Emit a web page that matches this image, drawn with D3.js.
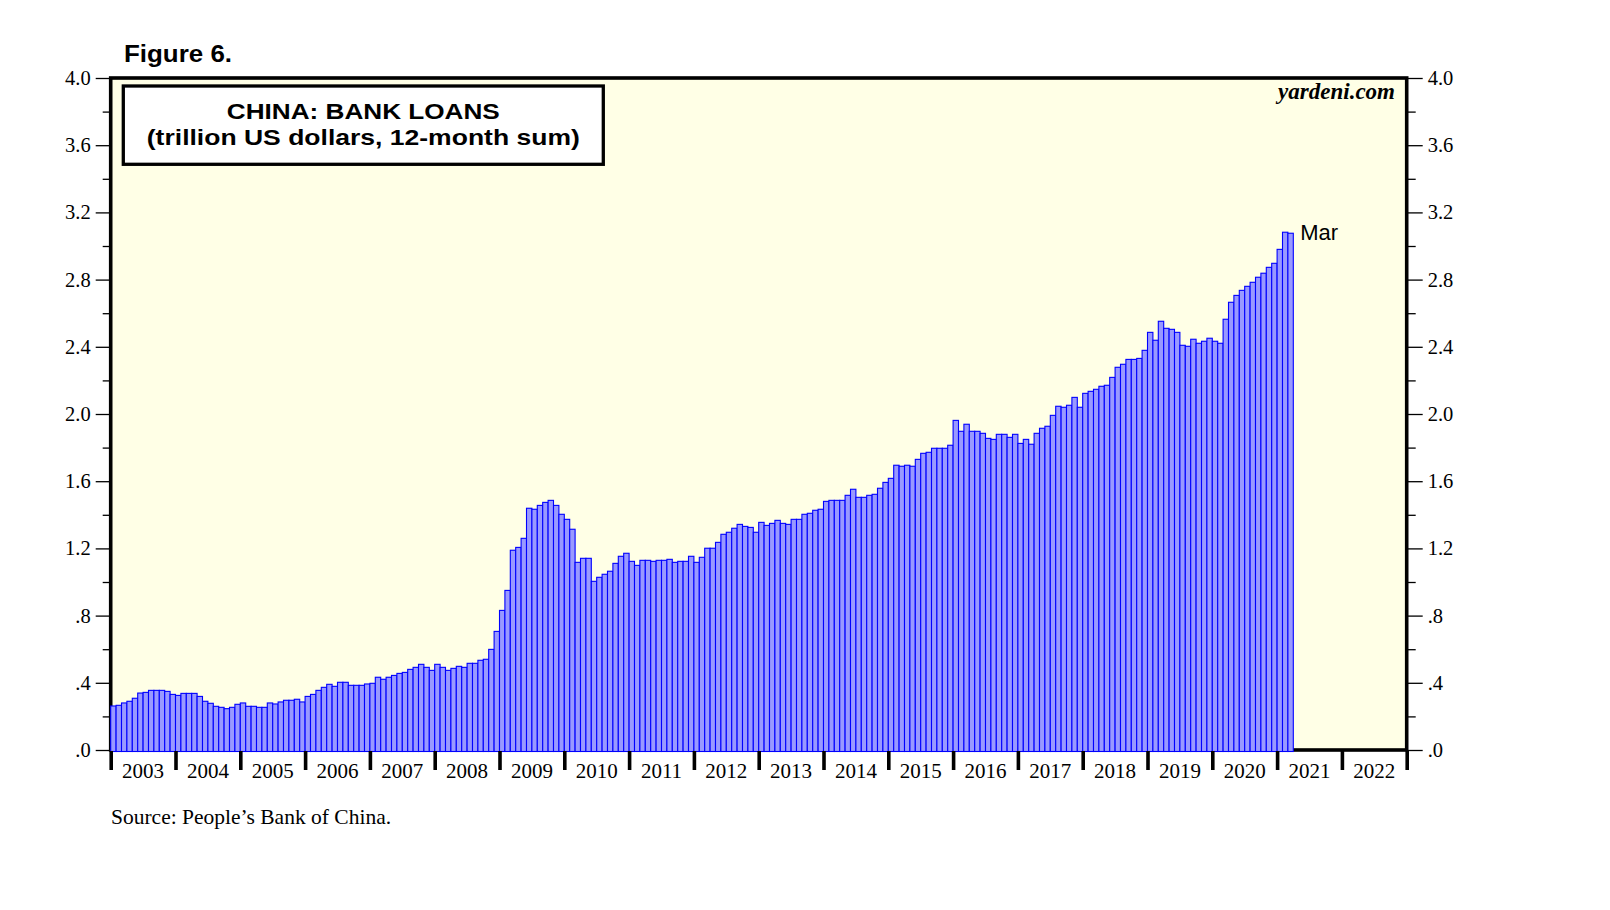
<!DOCTYPE html>
<html>
<head>
<meta charset="utf-8">
<script src="https://cdn.jsdelivr.net/npm/d3@7"></script>
<style>
  html, body { margin: 0; padding: 0; background: #ffffff; }
  svg { display: block; }
</style>
</head>
<body>
<div id="chart"></div>
<script>
// ---------------- DATA ----------------
const years = [2003, 2004, 2005, 2006, 2007, 2008, 2009, 2010, 2011, 2012,
               2013, 2014, 2015, 2016, 2017, 2018, 2019, 2020, 2021, 2022];
const yTickValues = [0, 0.4, 0.8, 1.2, 1.6, 2.0, 2.4, 2.8, 3.2, 3.6, 4.0];
const yTickLabels = [".0", ".4", ".8", "1.2", "1.6", "2.0", "2.4", "2.8", "3.2", "3.6", "4.0"];
const yMinorTicks = [0.2, 0.6, 1.0, 1.4, 1.8, 2.2, 2.6, 3.0, 3.4, 3.8];
// China bank loans, trillion US dollars, 12-month sum (monthly, Jan 2003 - Mar 2021)
const loans2003 = [0.262,0.266,0.280,0.290,0.308,0.339,0.343,0.355,0.355,0.355,0.349,0.331];
const loans2004 = [0.325,0.337,0.337,0.337,0.319,0.290,0.278,0.260,0.254,0.246,0.254,0.272];
const loans2005 = [0.280,0.260,0.260,0.254,0.254,0.280,0.274,0.286,0.296,0.296,0.302,0.286];
const loans2006 = [0.319,0.331,0.355,0.373,0.391,0.379,0.403,0.403,0.385,0.385,0.385,0.393];
const loans2007 = [0.397,0.433,0.421,0.433,0.444,0.456,0.462,0.480,0.492,0.510,0.492,0.474];
const loans2008 = [0.510,0.492,0.474,0.486,0.498,0.492,0.516,0.516,0.534,0.540,0.599,0.706];
const loans2009 = [0.831,0.950,1.189,1.206,1.260,1.439,1.433,1.456,1.474,1.486,1.456,1.403];
const loans2010 = [1.373,1.314,1.117,1.141,1.141,1.004,1.028,1.046,1.064,1.111,1.153,1.171];
const loans2011 = [1.123,1.099,1.129,1.129,1.123,1.129,1.129,1.135,1.117,1.123,1.123,1.153];
const loans2012 = [1.117,1.147,1.201,1.201,1.236,1.284,1.296,1.320,1.343,1.331,1.325,1.296];
const loans2013 = [1.355,1.337,1.349,1.367,1.349,1.343,1.373,1.373,1.403,1.409,1.427,1.433];
const loans2014 = [1.480,1.486,1.486,1.486,1.516,1.552,1.504,1.504,1.516,1.522,1.558,1.593];
const loans2015 = [1.617,1.695,1.689,1.695,1.689,1.730,1.766,1.772,1.796,1.796,1.796,1.814];
const loans2016 = [1.962,1.897,1.939,1.897,1.897,1.885,1.855,1.849,1.879,1.879,1.861,1.879];
const loans2017 = [1.825,1.849,1.820,1.885,1.915,1.927,1.992,2.046,2.040,2.052,2.099,2.040];
const loans2018 = [2.123,2.135,2.147,2.165,2.171,2.218,2.278,2.296,2.325,2.325,2.331,2.379];
const loans2019 = [2.486,2.439,2.552,2.510,2.504,2.486,2.409,2.403,2.445,2.421,2.433,2.451];
const loans2020 = [2.433,2.421,2.564,2.665,2.706,2.736,2.760,2.784,2.814,2.838,2.873,2.897];
const loans2021 = [2.980,3.082,3.076];
const lastLabel = "Mar";

// ---------------- BUILD ----------------
(function () {
const values = [].concat(loans2003, loans2004, loans2005, loans2006, loans2007, loans2008,
  loans2009, loans2010, loans2011, loans2012, loans2013, loans2014, loans2015, loans2016,
  loans2017, loans2018, loans2019, loans2020, loans2021);
const monthKeys = [];
years.forEach(yy => { for (let m = 1; m <= 12; m++) monthKeys.push(yy + "-" + m); });
const data = values.map((v, i) => ({ key: monthKeys[i], value: v }));
const yearEdges = years.concat([years[years.length - 1] + 1]);

const W = 1610, H = 910;
const pLeft = 110.7, pRight = 1406.7, pTop = 78, pBottom = 750;
const serif = "'Liberation Serif', 'Times New Roman', serif";
const sans = "'Liberation Sans', Arial, sans-serif";

const svg = d3.select("#chart").append("svg")
  .attr("width", W).attr("height", H)
  .attr("viewBox", `0 0 ${W} ${H}`);

const x = d3.scaleBand().domain(monthKeys).range([pLeft, pRight]).paddingInner(0).paddingOuter(0);
const xYear = d3.scaleLinear().domain([years[0], years[years.length - 1] + 1]).range([pLeft, pRight]);
const y = d3.scaleLinear().domain([0, 4]).range([pBottom, pTop]);

// plot background
svg.append("rect")
  .attr("x", pLeft).attr("y", pTop)
  .attr("width", pRight - pLeft).attr("height", pBottom - pTop)
  .attr("fill", "#ffffe6");

// left axis
const yAxisL = d3.axisLeft(y).tickValues(yTickValues)
  .tickFormat((d, i) => yTickLabels[i]).tickSize(15).tickPadding(5);
const gL = svg.append("g").attr("transform", `translate(${pLeft},0)`).call(yAxisL);
const yAxisLminor = d3.axisLeft(y).tickValues(yMinorTicks).tickFormat("").tickSize(8);
const gLm = svg.append("g").attr("transform", `translate(${pLeft},0)`).call(yAxisLminor);

// right axis
const yAxisR = d3.axisRight(y).tickValues(yTickValues)
  .tickFormat((d, i) => yTickLabels[i]).tickSize(16).tickPadding(5);
const gR = svg.append("g").attr("transform", `translate(${pRight},0)`).call(yAxisR);
const yAxisRminor = d3.axisRight(y).tickValues(yMinorTicks).tickFormat("").tickSize(9);
const gRm = svg.append("g").attr("transform", `translate(${pRight},0)`).call(yAxisRminor);

[gL, gLm, gR, gRm].forEach(g => {
  g.select(".domain").remove();
  g.selectAll(".tick line").attr("stroke", "#000").attr("stroke-width", 1.3);
  g.selectAll(".tick text")
    .attr("font-family", serif)
    .attr("font-size", 20.5).attr("fill", "#000");
});

// plot frame
svg.append("rect")
  .attr("x", pLeft).attr("y", pTop)
  .attr("width", pRight - pLeft).attr("height", pBottom - pTop)
  .attr("fill", "none").attr("stroke", "#000").attr("stroke-width", 3.6);

// bars
svg.append("g").selectAll("rect").data(data).join("rect")
  .attr("x", d => x(d.key))
  .attr("y", d => y(d.value))
  .attr("width", x.bandwidth())
  .attr("height", d => y(0) - y(d.value) + 1.5)
  .attr("fill", "#9999ff")
  .attr("stroke", "#0000ff")
  .attr("stroke-width", 1.1);

// x axis: year boundary ticks and year labels
const xAxis = d3.axisBottom(xYear).tickValues(yearEdges).tickFormat("").tickSize(19);
const gX = svg.append("g").attr("transform", `translate(0,${pBottom + 1})`).call(xAxis);
gX.select(".domain").remove();
gX.selectAll(".tick line").attr("stroke", "#000").attr("stroke-width", 3.6);

svg.append("g").selectAll("text").data(years).join("text")
  .attr("x", d => xYear(d + 0.5))
  .attr("y", 777.5)
  .attr("text-anchor", "middle")
  .attr("font-family", serif)
  .attr("font-size", 21)
  .attr("fill", "#000")
  .text(d => d);

// title box
svg.append("rect")
  .attr("x", 123.3).attr("y", 86).attr("width", 480).attr("height", 78.3)
  .attr("fill", "#ffffff").attr("stroke", "#000").attr("stroke-width", 3.3);
svg.append("text")
  .attr("x", 363.3).attr("y", 119.3)
  .attr("text-anchor", "middle")
  .attr("font-family", sans)
  .attr("font-weight", "bold").attr("font-size", 22.6).attr("fill", "#000")
  .attr("textLength", 273).attr("lengthAdjust", "spacingAndGlyphs")
  .text("CHINA: BANK LOANS");
svg.append("text")
  .attr("x", 363.3).attr("y", 145.2)
  .attr("text-anchor", "middle")
  .attr("font-family", sans)
  .attr("font-weight", "bold").attr("font-size", 22.6).attr("fill", "#000")
  .attr("textLength", 433).attr("lengthAdjust", "spacingAndGlyphs")
  .text("(trillion US dollars, 12-month sum)");

// figure label
svg.append("text")
  .attr("x", 124).attr("y", 61.5)
  .attr("font-family", sans)
  .attr("font-weight", "bold").attr("font-size", 23).attr("fill", "#000")
  .attr("textLength", 108).attr("lengthAdjust", "spacingAndGlyphs")
  .text("Figure 6.");

// yardeni.com
svg.append("text")
  .attr("x", 1395).attr("y", 99)
  .attr("text-anchor", "end")
  .attr("font-family", serif)
  .attr("font-weight", "bold").attr("font-style", "italic")
  .attr("font-size", 23).attr("fill", "#000")
  .text("yardeni.com");

// last value label
const last = data[data.length - 1];
svg.append("text")
  .attr("x", x(last.key) + x.bandwidth() + 7)
  .attr("y", y(last.value) + 7)
  .attr("font-family", sans)
  .attr("font-size", 22).attr("fill", "#000")
  .text(lastLabel);

// source
svg.append("text")
  .attr("x", 111).attr("y", 824)
  .attr("font-family", serif)
  .attr("font-size", 21.5).attr("fill", "#000")
  .text("Source: People\u2019s Bank of China.");
})();
</script>
</body>
</html>
